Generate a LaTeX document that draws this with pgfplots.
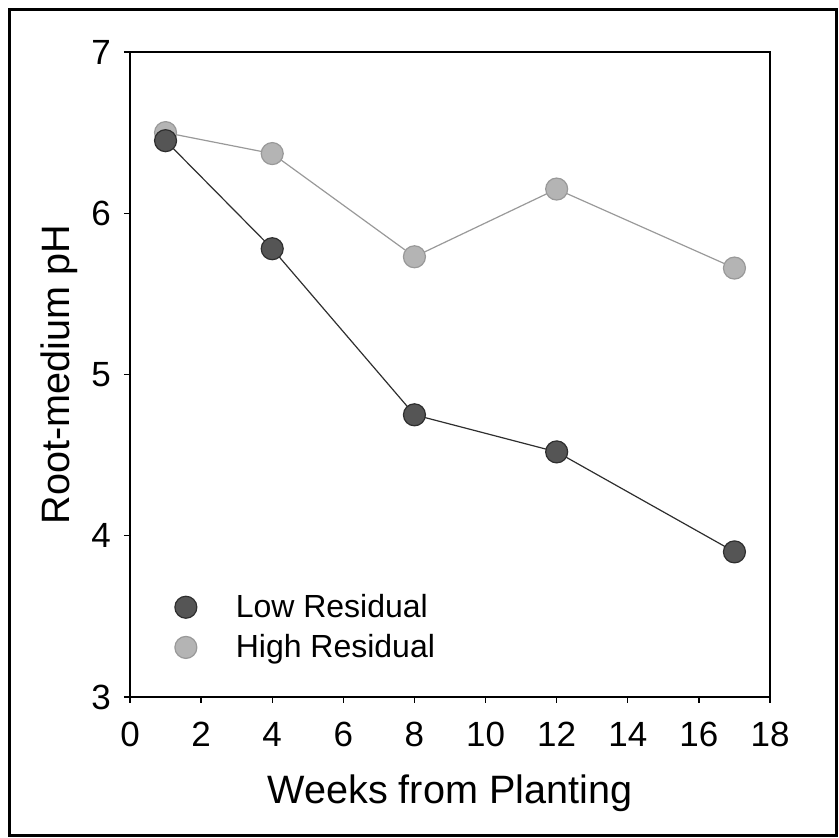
\documentclass[border=0pt]{standalone}
\usepackage{fontspec}
\setmainfont{Liberation Sans}
\usepackage{pgfplots}
\pgfplotsset{compat=1.18}
\definecolor{lowfill}{HTML}{555555}
\definecolor{lowedge}{HTML}{2E2E2E}
\definecolor{highfill}{HTML}{B4B4B4}
\definecolor{highedge}{HTML}{999999}
\begin{document}
\begin{tikzpicture}
\path (-65pt,-70.5pt) rectangle (354.5pt,348.5pt);
\draw[line width=1.5pt] (-60pt,-69.5pt) rectangle (353pt,343.5pt);
\begin{axis}[
  scale only axis, width=320pt, height=322.5pt,
  at={(0,0)}, anchor=south west,
  xmin=0, xmax=18, ymin=3, ymax=7,
  xtick={0,2,...,18}, ytick={3,4,5,6,7},
  tick align=outside, major tick length=3pt,
  xtick pos=bottom, ytick pos=left,
  axis line style={line width=0.9pt},
  tick style={line width=0.7pt, black},
  /pgf/number format/assume math mode=true,
  ticklabel style={font=\fontsize{17.5}{20}\selectfont},
  xticklabel style={yshift=-6pt},
  yticklabel style={xshift=-3pt},
  xlabel={Weeks from Planting},
  ylabel={Root-medium pH},
  label style={font=\fontsize{19.8}{23}\selectfont},
  xlabel style={yshift=-7pt},
  ylabel style={yshift=0pt},
  legend style={at={(0.05,0.108)}, anchor=west, draw=none, fill=none,
    font=\fontsize{16}{19}\selectfont, row sep=3pt,
    nodes={inner sep=2pt}},
  legend cell align=left,
  legend image code/.code={\draw[#1] plot coordinates {(0.3cm,0cm)}; \path (0cm,0cm) (1.1cm,0cm);},
]
\addlegendimage{only marks, mark=*, mark size=5.5pt, mark options={fill=lowfill, draw=lowedge, line width=0.6pt}}
\addlegendentry{Low Residual}
\addlegendimage{only marks, mark=*, mark size=5.5pt, mark options={fill=highfill, draw=highedge, line width=0.6pt}}
\addlegendentry{High Residual}
\addplot[color=highedge, line width=0.6pt, mark=*, mark size=5.5pt,
  mark options={fill=highfill, draw=highedge, line width=0.6pt}] coordinates {
  (1,6.50) (4,6.37) (8,5.73) (12,6.15) (17,5.66)};
\addplot[color=lowedge, line width=0.6pt, mark=*, mark size=5.5pt,
  mark options={fill=lowfill, draw=lowedge, line width=0.6pt}] coordinates {
  (1,6.45) (4,5.78) (8,4.75) (12,4.52) (17,3.90)};
\end{axis}
\end{tikzpicture}
\end{document}
